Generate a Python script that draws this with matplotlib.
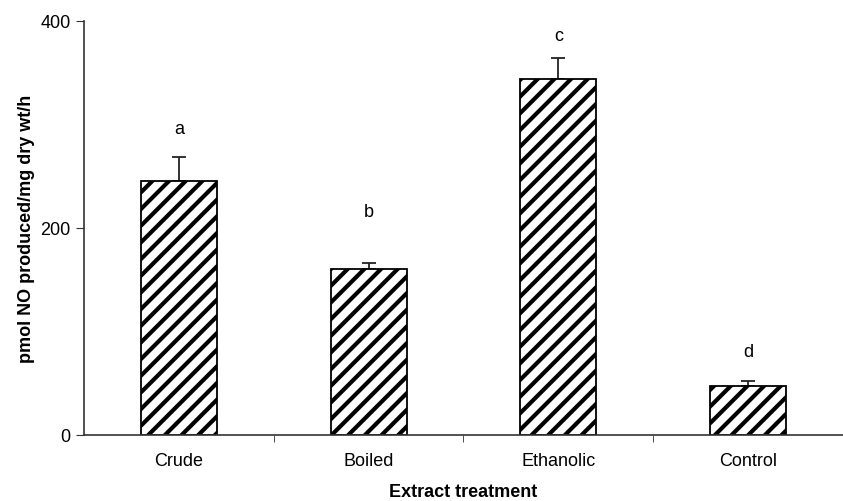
import matplotlib
matplotlib.use("Agg")
import matplotlib.pyplot as plt
import numpy as np

# donnees
categories = ["Crude", "Boiled", "Ethanolic", "Control"]
valeurs = [245, 160, 344, 47]
erreurs = [24, 6, 20, 5]
lettres = ["a", "b", "c", "d"]
pos_lettres = [296, 216, 386, 81]

plt.rcParams['font.family'] = ['Liberation Sans', 'DejaVu Sans']
plt.rcParams['hatch.linewidth'] = 3.0
plt.rcParams['hatch.color'] = 'black'

fig = plt.figure(figsize=(8.43, 5.02), dpi=100)
ax = fig.add_axes([0.0996, 0.1315, 0.9004, 0.8247])

x = np.arange(len(categories))
ax.bar(x, valeurs, width=0.4, color='white', edgecolor='black', linewidth=1.3,
       hatch='//', zorder=2)
ax.errorbar(x, valeurs, yerr=[np.zeros(len(erreurs)), erreurs], fmt='none',
            ecolor='#222222', elinewidth=1.3, capsize=5, capthick=1.3, zorder=1)

for xi, lettre, yi in zip(x, lettres, pos_lettres):
    ax.text(xi, yi, lettre, ha='center', va='center', fontsize=13)

# axes et echelle
ax.set_xlim(-0.5, 3.5)
ax.set_ylim(0, 400)
ax.set_yticks([0, 200, 400])
ax.set_xticks(x)
ax.set_xticklabels(categories, fontsize=13)
ax.set_xticks([0.5, 1.5, 2.5], minor=True)
ax.tick_params(axis='x', which='major', length=0, pad=12)
ax.tick_params(axis='x', which='minor', length=5, direction='out', color='#333333')
ax.tick_params(axis='y', length=6, direction='out', labelsize=13, color='#333333')

ax.spines['top'].set_visible(False)
ax.spines['right'].set_visible(False)
for s in ['left', 'bottom']:
    ax.spines[s].set_color('#333333')
    ax.spines[s].set_linewidth(1.2)

ax.set_ylabel("pmol NO produced/mg dry wt/h", fontsize=13, fontweight='bold', labelpad=4)
ax.set_xlabel("Extract treatment", fontsize=13, fontweight='bold', labelpad=10)

fig.savefig("out.png", dpi=100)
